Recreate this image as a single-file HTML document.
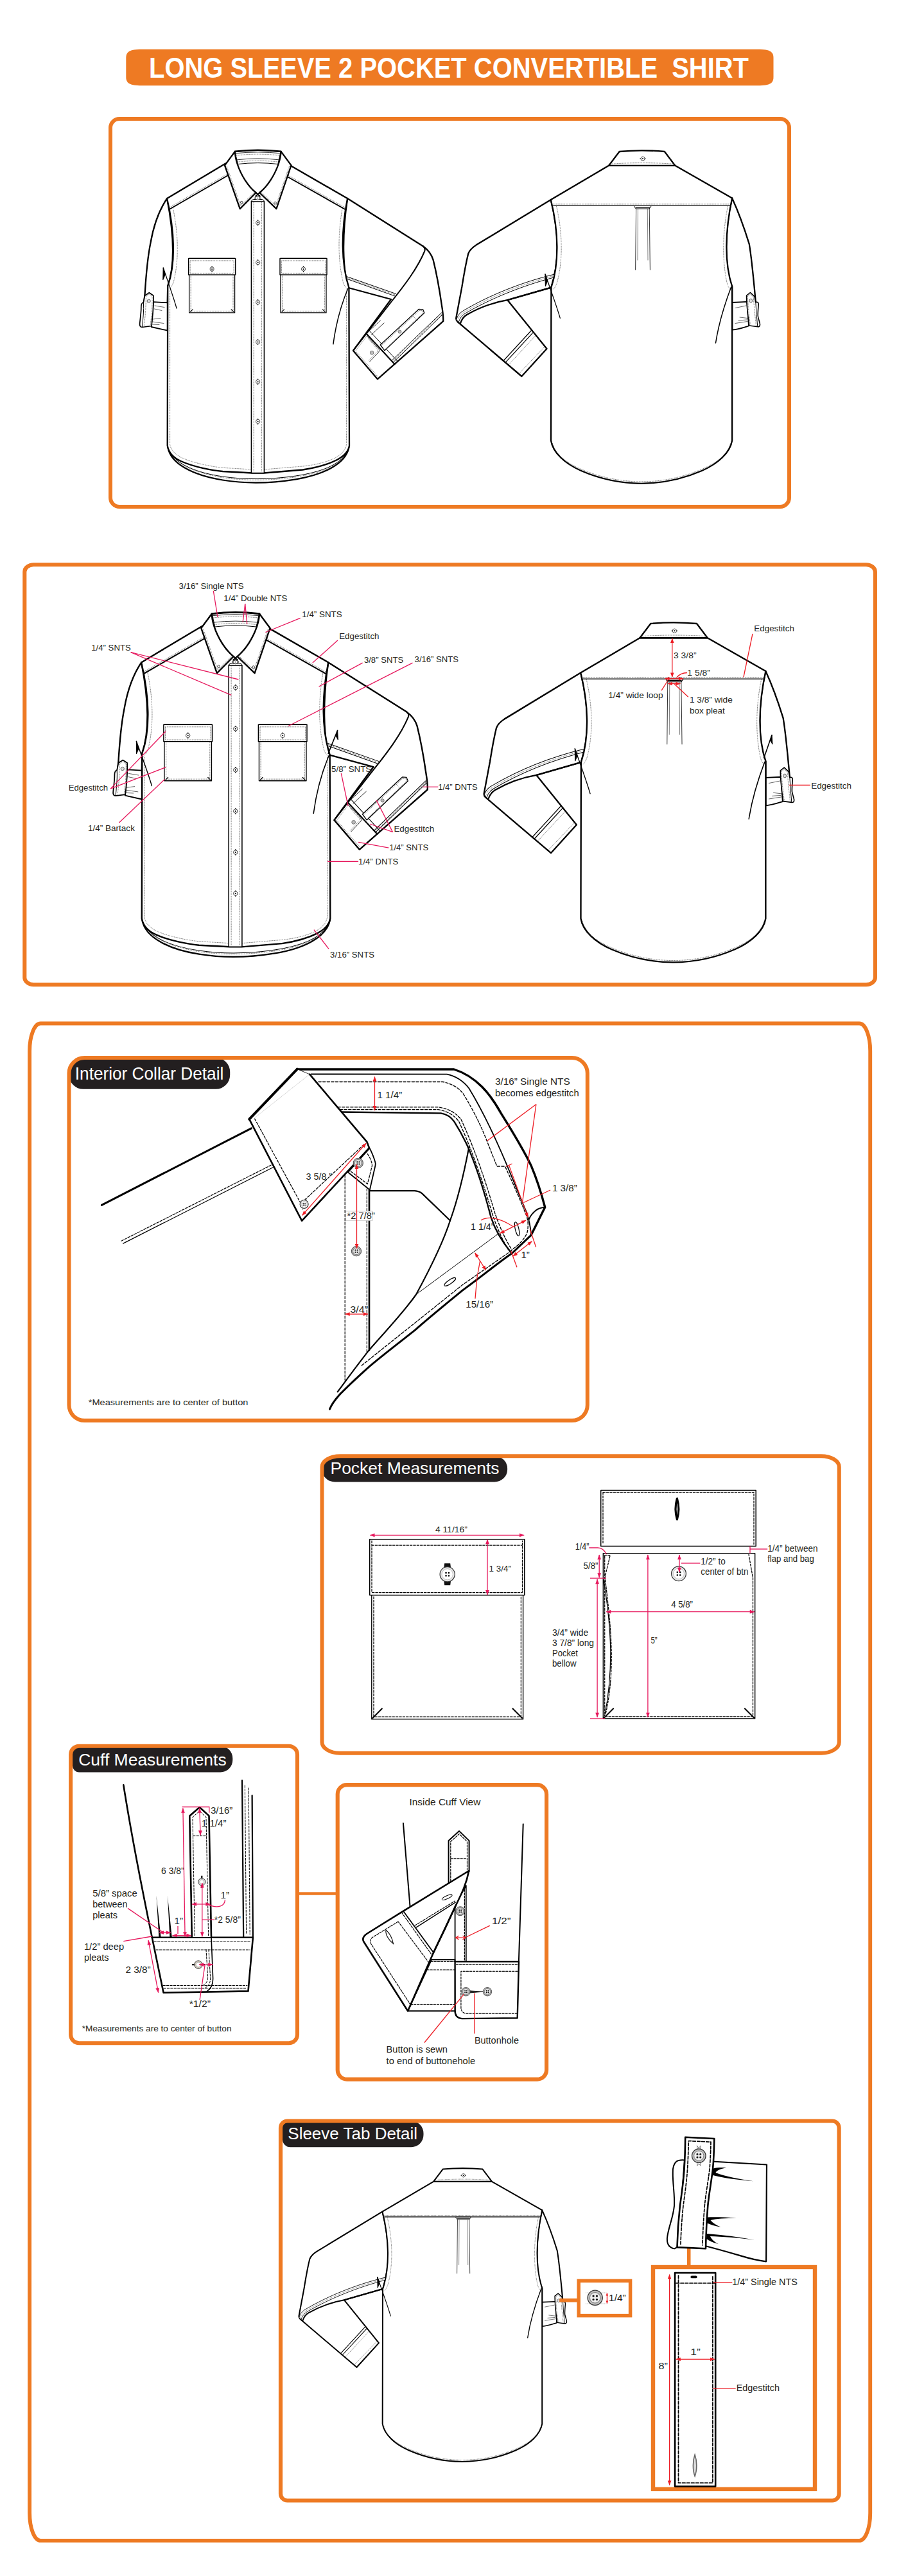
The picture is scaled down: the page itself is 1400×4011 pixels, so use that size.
<!DOCTYPE html>
<html lang="en">
<head>
<meta charset="utf-8">
<title>Long Sleeve 2 Pocket Convertible Shirt</title>
<style>
html,body{margin:0;padding:0;background:#fff;}
body{width:1400px;height:4011px;overflow:hidden;font-family:"Liberation Sans",sans-serif;}
svg{display:block;}
text{font-family:"Liberation Sans",sans-serif;fill:#231f20;}
.o{fill:none;stroke:#ee7a23;}
.k{fill:none;stroke:#000;stroke-linejoin:round;stroke-linecap:round;}
.kf{fill:#fff;stroke:#000;stroke-linejoin:round;stroke-linecap:round;}
.d{fill:none;stroke:#111;stroke-width:.55;stroke-dasharray:1.5 1;}
.r{fill:none;stroke:#e6175c;stroke-width:1.3;}
.rr{fill:none;stroke:#ed1c24;stroke-width:1.3;}
.l{font-size:13.4px;}
.l14{font-size:14.2px;}
.l15{font-size:15px;}
.pill{fill:#231f20;}
.pt{fill:#fff;font-size:26px;}
</style>
</head>
<body>
<svg width="1400" height="4011" viewBox="0 0 1400 4011">
<defs>
<marker id="ap" viewBox="0 0 10 10" refX="9.5" refY="5" markerWidth="8.6" markerHeight="7.6" orient="auto-start-reverse" markerUnits="userSpaceOnUse"><path d="M0,1.2 L10,5 L0,8.8 z" fill="#e6175c"/></marker>
<marker id="ar" viewBox="0 0 10 10" refX="9.5" refY="5" markerWidth="8.2" markerHeight="7.4" orient="auto-start-reverse" markerUnits="userSpaceOnUse"><path d="M0,1.2 L10,5 L0,8.8 z" fill="#ed1c24"/></marker>
<marker id="ars" viewBox="0 0 10 10" refX="9" refY="5" markerWidth="4.5" markerHeight="4.5" orient="auto-start-reverse" markerUnits="userSpaceOnUse"><path d="M0,1 L10,5 L0,9 z" fill="#ed1c24"/></marker>
</defs>
<rect width="1400" height="4011" fill="#fff"/>
<!-- title banner -->
<path d="M221,76.7 H1180 C1200,76.7 1204.5,81 1204.5,90 V120 C1204.5,129 1200,133.3 1180,133.3 H221 C201,133.3 196.3,129 196.3,120 V90 C196.3,81 201,76.7 221,76.7 Z" fill="#ee7a23"/>
<text x="232" y="121.2" font-size="44" font-weight="bold" style="fill:#fff" textLength="934" lengthAdjust="spacingAndGlyphs" xml:space="preserve">LONG SLEEVE 2 POCKET CONVERTIBLE  SHIRT</text>
<!-- pills -->
<rect class="pill" x="107.5" y="1647" width="250.7" height="48.8" rx="22"/>
<rect class="pill" x="501.5" y="2267.2" width="288.6" height="40.2" rx="20" ry="19"/>
<path class="pill" d="M110.1,2718.7 H343.3 A19,19 0 0 1 362.3,2737.7 V2740.5 A19,19 0 0 1 343.3,2759.5 H123 A10,10 0 0 1 113,2749.5 V2718.7 Z"/>
<path class="pill" d="M437,3302.5 H640.5 A19,19 0 0 1 659.5,3321.5 V3324.2 A19,19 0 0 1 640.5,3343.2 H452 A12,12 0 0 1 440,3331.2 V3302.5 Z"/>
<!-- panel frames -->
<rect class="o" x="172" y="185" width="1057" height="604" rx="14" stroke-width="6"/>
<rect class="o" x="38.3" y="879.3" width="1324.6" height="653.8" rx="14" ry="11" stroke-width="6.1"/>
<rect class="o" x="46.1" y="1593.5" width="1309.1" height="2362.4" rx="17" ry="43" stroke-width="5.9"/>
<rect class="o" x="107.5" y="1647" width="807.3" height="564.8" rx="24" stroke-width="6"/>
<rect class="o" x="501.5" y="2267.2" width="805.3" height="462.5" rx="28" ry="17" stroke-width="6"/>
<rect class="o" x="110.1" y="2718.7" width="352.9" height="462.5" rx="13" stroke-width="6.1"/>
<rect class="o" x="525.7" y="2779.1" width="325.4" height="458.5" rx="14.5" stroke-width="6.1"/>
<path class="o" d="M465,2948.5 H523.5" stroke-width="4.5"/>
<rect class="o" x="437" y="3302.5" width="869.6" height="591" rx="10.5" stroke-width="6.2"/>
<rect class="o" x="901.2" y="3551.4" width="80.4" height="54.2" stroke-width="5.5"/>
<rect class="o" x="1017" y="3530" width="252" height="345.8" stroke-width="6.4"/>
<path class="o" d="M1072.7,3500 V3527" stroke-width="5.6"/>
<text class="pt" x="116.8" y="1681.2" style="fill:#fff;font-size:27px" textLength="231.5" lengthAdjust="spacingAndGlyphs">Interior Collar Detail</text>
<text class="pt" x="514.5" y="2294.6" style="fill:#fff" textLength="263" lengthAdjust="spacingAndGlyphs">Pocket Measurements</text>
<text class="pt" x="122.2" y="2749.2" style="fill:#fff" textLength="230.5" lengthAdjust="spacingAndGlyphs">Cuff Measurements</text>
<text class="pt" x="448.3" y="3331.1" style="fill:#fff" textLength="201.8" lengthAdjust="spacingAndGlyphs">Sleeve Tab Detail</text>
<defs>
<g id="btnS"><circle r="3.1" fill="#fff" stroke="#000" stroke-width=".7"/><circle r="1" fill="#000"/><path d="M0,-4.6 V-3.1 M0,3.1 V4.6" stroke="#000" stroke-width="1.2" fill="none"/></g>
<g id="pocketS">
<rect class="kf" x="0" y="0" width="71" height="84.5" stroke-width="1.3"/>
<rect class="kf" x="-1" y="0" width="73" height="25.5" stroke-width="1.4"/>
<path class="d" d="M1.5,3.5 H69.5 M1.5,3.5 V23 M69.5,3.5 V23 M1.5,23 H69.5 M2.6,27 V82 H68.4 V27"/>
<path class="k" d="M2,83 L5.5,79.5 M69,83 L65.5,79.5" stroke-width="1.2"/>
<use href="#btnS" x="35.5" y="16.5"/>
</g>
<g id="front">
<!-- back hem behind -->
<path class="kf" stroke-width="2.2" d="M261.5,697 C266,722 300,740 346.8,747.5 C380,753 420,753 460.7,746.3 C505,739 538,722 543.4,697 Z"/>
<path class="k" stroke-width="1" d="M266,706 C278,724 306,736 346.8,742 C380,747 420,747 460.7,741 C500,735 528,724 539,706"/>
<path class="d" d="M268.5,710 C282,727 310,737.5 346.8,743.7 C380,748.6 420,748.6 460.7,742.7 C498,736.8 524,727 536.5,710"/>
<!-- right sleeve (viewer right), bent -->
<path class="kf" stroke-width="2.3" d="M541.1,309 L659,383.5 C668,390 672,396 674.6,404.6 C681,430 685,455 688,475.8 C690,488 690.5,494 690.2,500.2 L587.9,590.3 L550,545.9 L609,466 L542.3,448 C534,420 532,370 541.1,309 Z"/>
<path class="k" stroke-width="2" d="M659,383.5 C662,386 662,389 661.3,391 C650,418 630,444 610.1,469 L550,545.9"/>
<path class="k" stroke-width="1" d="M540.5,430.8 L616.8,457.6 M541,434.5 L614.5,460.8"/>
<path class="d" d="M540.8,432.6 L615.8,459.2"/>
<!-- cuff -->
<path class="k" stroke-width="2.1" d="M570,519 L614.6,567"/>
<path class="k" stroke-width="1" d="M574,513.6 L619,562.5"/>
<path class="d" d="M553.5,546.2 L588.5,586.5 M572.5,521.5 L554,546 M573.5,527.5 L587.6,543.6 Q589,545.6 587.5,547.4 L573.8,562"/>
<path class="k" stroke-width=".8" d="M571.5,523.5 L589.8,543.2 Q591.8,545.6 589.8,548 L575.5,563.2"/>
<path class="k" stroke-width="1" d="M612,564.5 L688.5,490.5 M610,561.5 L687.5,487"/>
<path class="d" d="M611,563 L688,488.8"/>
<!-- sleeve placket -->
<path class="kf" stroke-width="1.3" d="M592.3,537 L652.4,481.3 L658.6,481.8 L660.8,487.2 L599,545.9 Z"/>
<path class="d" d="M594.5,537.6 L652.8,483.4 L657.6,483.8 L659,487.2 L600,543.5 M643,492 L650.5,500"/>
<path class="k" stroke-width=".8" d="M573.5,516.5 L592.5,499 M578.5,521 L598,503"/>
<circle cx="622.5" cy="516.5" r="2.5" fill="#bbb" stroke="#555" stroke-width=".7"/>
<circle cx="579.1" cy="549.2" r="2.8" fill="#bbb" stroke="#555" stroke-width=".7"/>
<!-- left sleeve (viewer left), rolled -->
<path class="kf" stroke-width="2.3" d="M260.1,309 C246,330 238,358 234.5,378 C229,405 227,435 225.6,458 L224,472 L260.7,472 L261.2,445.7 C270,420 274,380 260.1,309 Z"/>
<path class="kf" stroke-width="1.8" d="M238.9,470.2 L260.7,471.3 V514.7 L235.6,509 Z"/>
<path class="k" stroke-width=".6" d="M241,476 L256,478.5 M240.5,481 L252,483.5 M238,497 L250,495.5 M237.5,501 L255,503.5 M237,505 L248,505.5"/>
<path class="kf" stroke-width="1.7" d="M225.6,460.2 L232.3,455.8 L238.9,460.2 C239.5,478 237.5,495 236,507.5 L221.5,509.5 C217.5,509.5 217.3,506 217.8,502 C219,492 220,484 219.8,478 C219.8,473 221,471.5 223.4,471 Z"/>
<path class="k" stroke-width="1" d="M223.4,471 C224.5,484 222.5,497 221.5,509"/>
<path class="d" d="M227.3,461.5 L232.3,458 L237,461.5 C237.5,478 235.8,494 234.2,506 M227.3,461.5 C227.5,478 226,494 224.3,507.5"/>
<circle cx="231.7" cy="468.8" r="2.6" fill="#ddd" stroke="#333" stroke-width=".7"/>
<!-- body -->
<path d="M351.3,254.5 L260.1,309 C272,360 274,410 261.2,445.7 L260.7,694 C263,706 272,714 282.7,718.5 C302,727 330,732.5 346.8,734 L393,736.5 H411 L471.4,731.5 C495,728 512,722.5 524.8,716 C536,710 542.5,703 544,694 L543.4,448 C531,410 531,360 541.1,309 L451.4,257.3 Z" fill="#fff"/>
<path class="k" stroke-width="2.3" d="M351.3,254.5 L260.1,309 C272,360 274,410 261.2,445.7 L260.7,694 C263,706 272,714 282.7,718.5 C302,727 330,732.5 346.8,734 L393,736.5 H411 L471.4,731.5 C495,728 512,722.5 524.8,716 C536,710 542.5,703 544,694 L543.4,448 C531,410 531,360 541.1,309 L451.4,257.3"/>
<!-- yoke seams -->
<path class="k" stroke-width="2" d="M354.3,273.5 L264.5,325.5 M448.2,275.5 L537.5,326"/>
<path class="d" d="M353.7,271.2 L263.6,323.2 M448.9,273.2 L538.2,323.7 M269,322 C278,365 279,405 270,440 Q267,447 263.5,450 M533.5,322 C526,365 526,405 534.5,440 Q537,447 541,450"/>
<path class="d" d="M264.6,451 V692 C266.5,703 276,710 287,714.5 C304,721.5 330,726.6 346.8,728.3 L392,731 M539.6,451 V692 C537.5,703 529,709.5 520,714 C505,720.5 490,724 471.4,726 L411.5,731"/>
<!-- wrinkles -->

<path class="k" stroke-width="1.5" d="M542,449 C531,475 523,505 518.9,535.8"/>
<!-- collar band back -->
<path class="kf" stroke-width="1" d="M366.5,236.5 Q401.7,232.5 437,236.5 L432.8,255.5 Q401.7,251.8 370.6,255.5 Z"/>
<path class="k" stroke-width=".8" d="M367,238.8 Q401.7,235 436.6,238.8 M369,248.8 Q401.7,245 434.4,248.8"/>
<path class="d" d="M367.8,242 Q401.7,238.2 435.8,242 M369.8,252.2 Q401.7,248.4 433.6,252.2"/>
<!-- placket -->
<path class="kf" stroke-width="1.5" d="M391.4,313.4 H411.4 V736.5 H391.4 Z"/>
<path class="d" d="M395.2,315 V735 M407.4,315 V735"/>
<!-- collar -->
<path class="kf" stroke-width="2.3" d="M365.9,235.9 L350,257.5 L373.7,325.1 L398.6,300 C386,290 375,272 369.5,255 C367,247 366,240 365.9,235.9 Z"/>
<path class="kf" stroke-width="2.3" d="M437.6,235.9 L453.5,257.5 L430.4,325.1 L404.2,300 C417,290 428,272 433.8,255 C436.3,247 437.4,240 437.6,235.9 Z"/>
<path class="k" stroke-width="2.6" d="M365.9,235.9 Q401.7,231.5 437.6,235.9"/>
<path class="k" stroke-width="2" d="M398.6,300 L404.8,305.5 M404.2,300 L398.2,305.5"/>
<path class="d" d="M353,258.5 L374.8,320.5 L396,299.5 M450.6,258.5 L429.4,320.5 L407,299.5"/>
<circle cx="376.2" cy="315.1" r="1.8" fill="#fff" stroke="#000" stroke-width=".7"/>
<circle cx="428.5" cy="316" r="1.8" fill="#fff" stroke="#000" stroke-width=".7"/>
<path class="kf" stroke-width="1" d="M391.4,313.4 Q392,311 394.5,310.5 H408.5 Q411,311 411.4,313.4 Z"/>
<ellipse cx="401.4" cy="308.4" rx="3.6" ry="2.8" fill="#fff" stroke="#000" stroke-width=".8"/><circle cx="401.4" cy="308.4" r="1" fill="#777"/>
<path d="M396,308.4 H397.8 M405,308.4 H406.8" stroke="#000" stroke-width="1.4"/>
<!-- buttons -->
<use href="#btnS" x="401.6" y="346.8"/><use href="#btnS" x="401.6" y="408.7"/><use href="#btnS" x="401.6" y="470.6"/><use href="#btnS" x="401.6" y="532.5"/><use href="#btnS" x="401.6" y="594.4"/><use href="#btnS" x="401.6" y="656.3"/>
<!-- pockets -->
<use href="#pocketS" x="294.6" y="402.4"/>
<use href="#pocketS" x="437" y="402.4"/>
</g>
</defs>
<use href="#front"/>
<path class="k" stroke-width="1.1" style="fill:#000" d="M254.2,417 L253.8,435.5 L257.2,427.5 Z"/><path class="k" stroke-width="1.3" d="M254.2,417 C262,440 270,462 275,480"/>
<use href="#front" transform="translate(-49.3,711.3) scale(1.036)"/>
<path class="k" stroke-width="1.1" style="fill:#000" d="M212.4,1154.3 L212.6,1173.4 L216,1165.5 Z"/><path class="k" stroke-width="1.4" d="M212.4,1154.3 C221,1178 230,1202 236.4,1223.6"/>
<defs>
<g id="back">
<!-- left sleeve bent (viewer left) -->
<path class="kf" stroke-width="2.3" d="M857.8,311 L741.4,381.6 C734,386.5 731,390 729.2,395 C725,412 722,430 719.4,446.4 C715,470 711.5,488 710.3,495 Q709.8,498.5 712.5,501 L812.4,586 L851.5,543 L790.3,467.2 L858.4,447.6 C870,410 872,370 857.8,311 Z"/>
<path class="kf" stroke-width="1" d="M710.8,497.8 C712,492 716,487 722,483.5 C760,461 810,440 863.8,427 L864.5,431.5 C812,445 762,466 724.5,488 C719,491.5 716,496 714.2,501.5 Z"/>
<path class="d" d="M712.6,499.3 C714,494 717.5,489.5 723.3,485.8 C761,463.5 811,442.6 864.2,429.2"/>
<path class="k" stroke-width="2.2" d="M717,503.5 C719,497 722,493 727,490 C748,478 768,471 790.3,467.2"/>
<path class="k" stroke-width="2.2" d="M790.3,467.2 L858.4,447.6"/>
<path class="k" stroke-width="1.2" d="M784.2,561.5 L827,515 M787.3,564.2 L830,517.8"/>
<path class="d" d="M792,568 L835,521.5 M808,582 L848.5,539.5"/>
<!-- right sleeve rolled (viewer right) -->
<path class="kf" stroke-width="2.3" d="M1140.1,308.4 C1150,330 1160,358 1166.8,380.1 C1171,405 1174,440 1176.8,470.2 L1140.1,472 V446 C1128,420 1128,360 1140.1,308.4 Z"/>
<path class="kf" stroke-width="1.8" d="M1140.4,471 L1163.4,469.9 L1166,507.5 C1158,510 1150,513 1140.4,513.6 Z"/>
<path class="k" stroke-width=".6" d="M1145,479.5 L1162,476 M1152,494 L1164,495.5 M1145,503.5 L1164,500.5 M1150,499 L1163,498"/>
<path class="kf" stroke-width="1.6" d="M1162.6,460.2 L1168.4,455.5 L1175.1,461.9 L1176.8,470.5 C1180,470 1181.3,471 1181.2,474 C1180.6,482 1180,488 1180.3,492 C1181,497 1183,501 1183.5,505 C1183.6,508 1182,509 1180.1,508.8 L1166.8,507 C1164.8,492 1162.5,476 1162.6,460.2 Z"/>
<path class="k" stroke-width="1" d="M1176.8,470.5 C1177.5,483 1178.5,496 1179.8,508.5"/>
<path class="d" d="M1164.5,461.2 L1168.4,458 L1173.4,462.8 C1174.3,478 1175.8,493 1177.6,507.5 M1164.5,461.2 C1164.6,477 1166.5,492 1168.6,506.3"/>
<ellipse cx="1169.3" cy="468.2" rx="2.3" ry="2.9" fill="#ddd" stroke="#333" stroke-width=".7"/>
<!-- body -->
<path class="kf" stroke-width="2.3" d="M948.1,257.8 L857.8,311 C870,360 871,410 858.4,447.6 L858,686 C861,705 880,722 905,733 C935,746 965,752.5 999,752.8 C1033,752.5 1063,746 1093,733 C1118,722 1137,705 1140.1,686 V446 C1128,410 1129,360 1140.1,308.4 L1051.3,257.8 Z"/>
<path class="k" stroke-width="1.3" d="M861.5,320.3 H1137.6"/>
<path class="d" d="M861,317.8 H1138 M866.5,321 C876,362 877,405 867.5,440 Q865,447 861.5,451 M1133.5,321 C1125,362 1124.5,405 1132,440 Q1134,447 1137.5,451"/>
<path class="d" d="M860.5,690 C864,707 882,721 906,731 C936,743.5 966,749.8 999,750 C1032,749.8 1062,743.5 1092,731 C1116,721 1134,707 1137.6,690"/>
<!-- pleat -->
<path class="k" stroke-width=".8" d="M990.6,324 L989.6,420 M1011.2,324 L1012.4,420"/>
<path class="k" stroke-width=".5" d="M993.5,325 L993,405 M1008.3,325 L1009,405"/>
<path class="kf" stroke-width="1" d="M987.6,320.5 H1014.4 L1011.3,325 H990.6 Z"/>
<path d="M990,322.8 H1012" stroke="#000" stroke-width="1.4"/>
<!-- wrinkles -->
<path class="k" stroke-width="1.1" style="fill:#000" d="M849,426.8 L849.4,445.5 L852.6,437.5 Z"/><path class="k" stroke-width="1.3" d="M849,426.8 C857,450 866,474 872.3,495.4"/>
<path class="k" stroke-width="1.5" d="M1138.6,447 C1128,475 1119,505 1114.5,534"/>
<!-- collar -->
<path class="kf" stroke-width="2.3" d="M964.6,236 Q999.7,232.6 1034.9,236 L1051.3,257.8 H948.1 Z"/>
<path class="d" d="M951,255.2 Q999.7,252 1048.5,255.2"/>
<use href="#btnS" x="1001" y="247" transform="rotate(90 1001 247)"/>
</g>
</defs>
<use href="#back"/>
<use href="#back" transform="translate(28.9,730.2) scale(1.0205)"/>
<use href="#back" transform="translate(-160.2,3169.7) scale(0.881)"/>
<!-- panel 2 annotations -->
<text class="l" x="278.5" y="916.8" textLength="101.0" lengthAdjust="spacingAndGlyphs">3/16” Single NTS</text>
<text class="l" x="348.3" y="936.2" textLength="99.0" lengthAdjust="spacingAndGlyphs">1/4” Double NTS</text>
<text class="l" x="470.3" y="961.4" textLength="62.3" lengthAdjust="spacingAndGlyphs">1/4” SNTS</text>
<text class="l" x="528.2" y="995.2" textLength="62.3" lengthAdjust="spacingAndGlyphs">Edgestitch</text>
<text class="l" x="566.9" y="1031.7" textLength="61.4" lengthAdjust="spacingAndGlyphs">3/8” SNTS</text>
<text class="l" x="645.6" y="1030.8" textLength="68.5" lengthAdjust="spacingAndGlyphs">3/16” SNTS</text>
<text class="l" x="142.3" y="1012.6" textLength="61.4" lengthAdjust="spacingAndGlyphs">1/4” SNTS</text>
<text class="l" x="106.7" y="1231.2" textLength="61.4" lengthAdjust="spacingAndGlyphs">Edgestitch</text>
<text class="l" x="137" y="1294.4" textLength="72.9" lengthAdjust="spacingAndGlyphs">1/4” Bartack</text>
<text class="l" x="516.1" y="1202" textLength="62.1" lengthAdjust="spacingAndGlyphs">5/8” SNTS</text>
<text class="l" x="682.3" y="1229.9" textLength="61.3" lengthAdjust="spacingAndGlyphs">1/4” DNTS</text>
<text class="l" x="613.4" y="1295.4" textLength="62.9" lengthAdjust="spacingAndGlyphs">Edgestitch</text>
<text class="l" x="606.2" y="1324.2" textLength="60.9" lengthAdjust="spacingAndGlyphs">1/4” SNTS</text>
<text class="l" x="558.1" y="1346" textLength="62.1" lengthAdjust="spacingAndGlyphs">1/4” DNTS</text>
<text class="l" x="514.1" y="1491.2" textLength="68.9" lengthAdjust="spacingAndGlyphs">3/16” SNTS</text>
<text class="l" x="1174.3" y="982.6" textLength="62.6" lengthAdjust="spacingAndGlyphs">Edgestitch</text>
<text class="l" x="1049" y="1025" textLength="35.6" lengthAdjust="spacingAndGlyphs">3 3/8”</text>
<text class="l" x="1070.3" y="1051.5" textLength="35.6" lengthAdjust="spacingAndGlyphs">1 5/8”</text>
<text class="l" x="947.2" y="1087" textLength="85.4" lengthAdjust="spacingAndGlyphs">1/4” wide loop</text>
<text class="l" x="1073.9" y="1094" textLength="66.9" lengthAdjust="spacingAndGlyphs">1 3/8” wide</text>
<text class="l" x="1073.9" y="1110.5" textLength="54.8" lengthAdjust="spacingAndGlyphs">box pleat</text>
<text class="l" x="1263.2" y="1227.5" textLength="62.7" lengthAdjust="spacingAndGlyphs">Edgestitch</text>
<path class="r" d="M332.3,920 L339,961"/>
<path class="r" d="M381.7,940 L378.1,969"/>
<path class="r" d="M381.7,940 L384.8,972"/>
<path class="r" d="M467.7,962.3 L413.4,984.5"/>
<path class="r" d="M525.9,997 L486.8,1032.1"/>
<path class="r" d="M564.6,1032.1 L496.6,1069"/>
<path class="r" d="M642.5,1032.1 L449,1130.5"/>
<path class="r" d="M203.7,1015.7 L371.4,1058"/>
<path class="r" d="M203.7,1015.7 L360.3,1082.4"/>
<path class="r" d="M172.1,1228.1 L258,1138.7"/>
<path class="r" d="M172.1,1228.1 L258,1194.7"/>
<path class="r" d="M185.4,1281 L256.6,1213.4"/>
<path class="r" d="M531.3,1204.1 L542.1,1255"/>
<path class="r" d="M658.3,1225.3 L682.3,1225.3"/>
<path class="r" d="M611.4,1295.4 L586.2,1246.1"/>
<path class="r" d="M611.4,1295.4 L576.2,1283"/>
<path class="r" d="M605.4,1320.2 L558.1,1311.4"/>
<path class="r" d="M510.1,1341.4 L558.1,1341.4"/>
<path class="r" d="M512.1,1477.6 L488.9,1447.6"/>
<path class="rr" d="M1172,986.9 L1157.9,1054.5"/>
<path class="rr" d="M1229,1222.5 L1261.8,1222.5"/>
<path class="rr" d="M1030.1,1075.1 L1040.1,1059.5"/>
<path class="rr" d="M1071.8,1085.2 L1050.1,1065.1"/>
<path class="rr" d="M1046.8,994 V1054.5" marker-start="url(#ar)" marker-end="url(#ar)"/>
<path class="rr" d="M1035.5,1056.8 H1064" marker-start="url(#ar)" marker-end="url(#ar)"/>
<path class="rr" d="M1040,1064.5 H1059.5" marker-start="url(#ar)" marker-end="url(#ar)"/>
<path class="rr" d="M1070.1,1047.5 C1062,1047.5 1057,1051 1053.5,1055"/>
<path class="k" stroke-width="1.6" d="M525.6,1137.4 C521,1149 516,1161 511.2,1173.4"/>
<path class="k" stroke-width="1" style="fill:#000" d="M525.6,1137.4 L526.4,1152 L523.2,1146 Z"/>
<path class="k" stroke-width="1.6" d="M1202,1144.5 C1198,1156 1194,1168 1189.6,1180"/>
<path class="k" stroke-width="1" style="fill:#000" d="M1202,1144.5 L1203,1159 L1199.8,1153 Z"/>
<!-- Interior collar detail -->
<defs>
<g id="btn4"><circle r="7.6" fill="#b5b5b5" stroke="#444" stroke-width="1"/><circle r="5.4" fill="#e6e6e6" stroke="#666" stroke-width=".8"/><path d="M-1.6,-1.6h.1M1.6,-1.6h.1M-1.6,1.6h.1M1.6,1.6h.1" stroke="#000" stroke-width="2" stroke-linecap="round"/></g>
</defs>
<g>
<!-- shoulder -->
<path class="k" stroke-width="3" d="M158.4,1876.4 L391.4,1756.8"/>
<path class="k" stroke-width="1.3" d="M191.8,1936.2 L426.5,1817"/>
<path class="k" stroke-width="1.2" stroke-dasharray="3.6 2" d="M189,1932.2 L424.5,1813"/>
<!-- collar stand / band lines -->
<path class="k" stroke-width="3.4" d="M462.5,1665 L707,1665 C742,1676 764,1704 780.2,1733.4 C800,1765 815,1790 826.9,1814.4 C836,1836 843,1858 848.7,1879.8 L826.9,1923.4"/>
<path class="k" stroke-width="2" d="M848.7,1879.8 C842,1880.5 838,1882 834.7,1884.5 C829.5,1888.5 826,1893 823.8,1898.5"/>
<path class="k" stroke-width="1.8" d="M484.5,1672.5 L696,1672.7 C712,1676 722,1684 730.3,1694.5 C755,1735 775,1780 789.5,1814.4 C800,1840 812,1868 820.6,1889.2 C824,1900 826,1910 826.9,1920.3"/>
<path class="k" stroke-width="1.35" stroke-dasharray="4.2 2.4" d="M496,1684.5 L689.8,1684.5 C705,1688 714,1694 721,1702.3 C738,1730 750,1755 758.4,1777 L773.9,1816 H786.4 C800,1845 812,1872 820.6,1895.4 C822.5,1902 823,1910 821,1919 C817,1930 806,1940 797,1946"/>
<path class="k" stroke-width="1.35" stroke-dasharray="4.2 2.4" d="M526,1723.8 L683,1723.8 C700,1727 710,1733 717.9,1742.8 C740,1790 758,1845 770.8,1889.2 C778,1910 786,1928 795.7,1943.7"/>
<path class="k" stroke-width="1.35" stroke-dasharray="4.2 2.4" d="M529.5,1727.6 L682,1727.6 C698,1730.5 707,1736.5 714.5,1746 C736,1792 754,1847 767,1891 C774,1912 782,1930 792,1946.5"/>
<path class="k" stroke-width="2.4" d="M531.8,1731.5 L686.7,1733.4 C696,1735 702,1739 707,1745.9 C716,1760 724,1775 730.3,1789.5 C745,1825 756,1862 764.6,1895.4 C772,1918 784,1936 795.7,1949.9"/>
<!-- front edge curve -->
<path class="k" stroke-width="2.2" d="M730.3,1786.4 C722,1830 712,1870 701,1900.5 C690,1935 670,1975 648.1,2015.5 C625,2048 598,2075 574.6,2102.4 C556,2126 540,2148 525.7,2167.2"/>
<path class="k" stroke-width="2.2" d="M575.8,1854.2 H645.5 Q653,1854.6 657.6,1858.6 L701,1900.5"/>
<path class="k" stroke-width="1" d="M776.5,1920.6 L648.1,2015.5"/>
<!-- placket edge thick -->
<path class="k" stroke-width="3" d="M826.9,1923.4 L797.3,1951.5 C780,1963 765,1976 720,2009.4 C695,2030 670,2050 646.8,2070.6 C620,2092 596,2110 573.4,2129.3 C556,2145 542,2158 529.4,2170.9 C522,2179 516.5,2186 513.5,2194.1"/>
<path class="k" stroke-width="1.35" stroke-dasharray="4.2 2.4" d="M797,1947 L720,2000.8 L562.4,2126.8"/>
<ellipse cx="700.7" cy="1995.9" rx="10.5" ry="3" fill="#fff" stroke="#000" stroke-width="1.2" transform="rotate(-34 700.7 1995.9)"/>
<ellipse cx="805.1" cy="1913.5" rx="2.8" ry="11" fill="#fff" stroke="#000" stroke-width="1.2" transform="rotate(-13 805.1 1913.5)"/>
<!-- placket -->
<path class="k" stroke-width="2.6" d="M575,1853 V2102.4"/>
<path class="k" stroke-width="1.25" stroke-dasharray="3.8 2.3" d="M537.2,1829.5 V2149 M571.4,1851 V2107"/>
<!-- band end tab -->
<path class="kf" stroke-width="1.8" d="M541.9,1825.3 L573.8,1790 L575.4,1787.5 C579,1794 582,1802 583.9,1808 C585,1811 585,1813 584.4,1815.2 L575.8,1852.8 Z"/>
<path class="k" stroke-width="1.25" stroke-dasharray="3.8 2.2" d="M546.3,1824 L572.3,1843.5 L579.5,1815.2 C579.6,1809 575,1800 570.9,1795"/>
<!-- collar flap -->
<path d="M462.9,1664.7 L388.2,1742.6 L470.1,1900.9 L575,1787.5 L571.5,1778.1 L482.1,1672.7 Z" fill="#fff"/>
<path class="k" stroke-width="2.6" d="M388.2,1742.6 L470.1,1900.9 L575,1787.5 L571.5,1778.1 L482.1,1672.7"/>
<path class="k" stroke-width=".8" d="M462.9,1664.7 L482.1,1672.7"/>
<path class="k" stroke-width="4" d="M462.9,1664.7 L388.2,1742.6"/>
<path class="k" stroke-width=".5" stroke-dasharray="1 1.4" style="stroke:#999" d="M396.7,1740.5 L480.5,1674"/>
<path class="k" stroke-width="1.25" stroke-dasharray="3.8 2.3" d="M396.7,1742.1 L468.5,1874 L567.5,1781.3"/>
<g transform="translate(473.6,1875)"><path d="M1.5,-9 l1.5,2.5 M3.5,-8.5 l-.5,2.5 M-3,9 l1,-2.5" stroke="#555" stroke-width=".8" fill="none"/><circle r="6.5" fill="#fff" stroke="#222" stroke-width="1.1"/><circle r="4.6" fill="#fff" stroke="#999" stroke-width=".6"/><path d="M-1.4,-1.4h.1M1.4,-1.4h.1M-1.4,1.4h.1M1.4,1.4h.1" stroke="#000" stroke-width="1.8" stroke-linecap="round"/></g>
<use href="#btn4" x="557.8" y="1810.9"/>
<use href="#btn4" x="555" y="1948.2"/>
</g>
<!-- collar annotations -->
<rect x="538.5" y="1886" width="42" height="14.5" fill="#fff" stroke="#bbb" stroke-width=".6"/>
<text class="l14" x="476.5" y="1837.4" textLength="40.6" lengthAdjust="spacingAndGlyphs">3 5/8 ”</text>
<text class="l14" x="540.5" y="1897.6" textLength="43.4" lengthAdjust="spacingAndGlyphs">*2 7/8”</text>
<text class="l14" x="587.4" y="1709.5" textLength="38.9" lengthAdjust="spacingAndGlyphs">1 1/4”</text>
<text class="l14" x="770.9" y="1689" textLength="116.8" lengthAdjust="spacingAndGlyphs">3/16” Single NTS</text>
<text class="l14" x="770.9" y="1706.7" textLength="130.7" lengthAdjust="spacingAndGlyphs">becomes edgestitch</text>
<text class="l14" x="859.9" y="1855.2" textLength="38.9" lengthAdjust="spacingAndGlyphs">1 3/8”</text>
<text class="l14" x="733.1" y="1915.3" textLength="36.4" lengthAdjust="spacingAndGlyphs">1 1/4”</text>
<text class="l14" x="811.5" y="1958.5" textLength="13.4" lengthAdjust="spacingAndGlyphs">1”</text>
<text class="l14" x="725.3" y="2036.3" textLength="42.8" lengthAdjust="spacingAndGlyphs">15/16”</text>
<text class="l14" x="545.3" y="2043.6" textLength="27.9" lengthAdjust="spacingAndGlyphs">3/4”</text>
<text class="l" x="137.8" y="2188.1" textLength="248.6" lengthAdjust="spacingAndGlyphs">*Measurements are to center of button</text>
<path class="rr" d="M470.6,1892.4 L570.2,1780" marker-start="url(#ar)" marker-end="url(#ar)"/>
<path class="rr" d="M555.5,1813 L555.5,1944" marker-start="url(#ar)" marker-end="url(#ar)"/>
<path class="rr" d="M583.5,1676.5 L583.5,1729" marker-start="url(#ar)" marker-end="url(#ar)"/>
<path class="rr" d="M537.6,2046.1 L573,2046.1" marker-start="url(#ar)" marker-end="url(#ar)"/>
<path class="rr" d="M834.9,1719.5 L758.7,1776.3"/>
<path class="rr" d="M834.9,1719.5 L813.7,1870.8"/>
<path class="rr" d="M857.1,1853 L815.4,1872.5"/>
<path class="rr" d="M792.6,1814.4 L822.2,1895.4" marker-end="url(#ar)"/>
<path class="rr" d="M788,1816.5 L797.5,1812"/>
<path class="rr" d="M778.6,1920.3 L819.1,1900.1" marker-start="url(#ar)" marker-end="url(#ar)"/>
<path class="rr" d="M749,1900 C760,1893 778,1896 798.5,1909.5"/>
<path class="rr" d="M798.8,1956.1 L828.4,1932.8" marker-start="url(#ar)" marker-end="url(#ar)"/>
<path class="rr" d="M825.3,1914 L834.7,1942"/>
<path class="rr" d="M795.7,1948 L805,1973.3"/>
<path class="rr" d="M739.7,1950.8 L756.8,1978" marker-start="url(#ar)" marker-end="url(#ar)"/>
<path class="rr" d="M747.5,1963.5 L742.8,1990 L740,2022"/>
<!-- pocket measurements -->
<rect class="kf" x="578.8" y="2483" width="235.8" height="193.9" stroke-width="1.4"/>
<rect class="kf" x="575.7" y="2396.8" width="241.1" height="87" stroke-width="1.5"/>
<path class="k" stroke-width="1.25" stroke-dasharray="3.4 2" d="M579,2406 H813.5 M579,2399 V2479.5 H813.5 V2399 M582,2486 V2673 H811.4 V2486"/>
<path class="k" stroke-width="2" d="M580.5,2675 L594.8,2660.5 M813,2675 L798.5,2660.5"/>
<g transform="translate(696.7,2451.3)"><path d="M-4.5,-17 h9 l1,8 h-11 z M-5.5,9 h11 l-1,8 h-9 z" fill="#111"/><circle r="11.6" fill="#e8e8e8" stroke="#333" stroke-width="1.2"/><circle r="8.6" fill="#fff" stroke="#aaa" stroke-width=".7"/><path d="M-2.2,-2.2h.1M2.2,-2.2h.1M-2.2,2.2h.1M2.2,2.2h.1" stroke="#000" stroke-width="2.6" stroke-linecap="round"/></g>
<path class="r" d="M576.3,2390.4 L816.2,2390.4" marker-start="url(#ap)" marker-end="url(#ap)"/>
<path class="r" d="M759,2397 L759,2483.2" marker-start="url(#ap)" marker-end="url(#ap)"/>
<text class="l" x="678" y="2385.9" textLength="49.8" lengthAdjust="spacingAndGlyphs">4 11/16”</text>
<text class="l" x="761.6" y="2446.9" textLength="34.3" lengthAdjust="spacingAndGlyphs">1 3/4”</text>
<rect class="kf" x="935.7" y="2320.4" width="241.5" height="87" stroke-width="1.5"/>
<path class="k" stroke-width="1.25" stroke-dasharray="3.4 2" d="M939,2323.6 H1174 V2404.5 M939,2323.6 V2404.5"/>
<path d="M1054.4,2333.2 C1051.5,2343 1051.5,2356 1054.4,2365.9 C1057.3,2356 1057.3,2343 1054.4,2333.2 Z" fill="#fff" stroke="#000" stroke-width="3.2" stroke-linejoin="round"/>
<path class="kf" stroke-width="1.4" d="M939.3,2418.6 H1175.7 V2676 H939.3 Z"/>
<path class="k" stroke-width="1.25" stroke-dasharray="3.4 2" d="M942.5,2672.8 H1172.5 V2457 L1166,2420.5"/>
<path class="k" stroke-width="1.25" stroke-dasharray="3.4 2" d="M941,2421.5 H950.2 C948,2432 944,2446 942.2,2456 C946,2490 951.5,2530 952.3,2577 C952.5,2610 949,2645 943,2669 M941.7,2423 V2668"/>
<path class="k" stroke-width="1.2" d="M940,2459.4 C945,2490 950,2530 950.8,2570 C951,2605 948,2640 941.5,2672"/>
<path class="k" stroke-width="2" d="M941,2674.5 L955,2660.5 M1174,2674.5 L1160,2660.5"/>
<g transform="translate(1057,2450.3)"><circle r="11.4" fill="#e8e8e8" stroke="#333" stroke-width="1.2"/><circle r="8.4" fill="#fff" stroke="#aaa" stroke-width=".7"/><path d="M-2.2,-2.2h.1M2.2,-2.2h.1M-2.2,2.2h.1M2.2,2.2h.1" stroke="#000" stroke-width="2.6" stroke-linecap="round"/></g>
<text class="l14" x="895.8" y="2412.5" textLength="21.5" lengthAdjust="spacingAndGlyphs">1/4”</text>
<text class="l14" x="908.6" y="2442.7" textLength="22.9" lengthAdjust="spacingAndGlyphs">5/8”</text>
<text class="l14" x="860" y="2546.5" textLength="56.3" lengthAdjust="spacingAndGlyphs">3/4” wide</text>
<text class="l14" x="860" y="2562.9" textLength="65" lengthAdjust="spacingAndGlyphs">3 7/8” long</text>
<text class="l14" x="860" y="2578.8" textLength="40" lengthAdjust="spacingAndGlyphs">Pocket</text>
<text class="l14" x="860" y="2595.2" textLength="37.5" lengthAdjust="spacingAndGlyphs">bellow</text>
<text class="l14" x="1013.5" y="2559.3" textLength="10.2" lengthAdjust="spacingAndGlyphs">5”</text>
<text class="l14" x="1045.2" y="2503" textLength="33.8" lengthAdjust="spacingAndGlyphs">4 5/8”</text>
<text class="l14" x="1091.3" y="2435.5" textLength="38.4" lengthAdjust="spacingAndGlyphs">1/2” to</text>
<text class="l14" x="1091.3" y="2451.9" textLength="74.2" lengthAdjust="spacingAndGlyphs">center of btn</text>
<text class="l14" x="1195.2" y="2416.1" textLength="78.3" lengthAdjust="spacingAndGlyphs">1/4” between</text>
<text class="l14" x="1195.2" y="2432.4" textLength="72.6" lengthAdjust="spacingAndGlyphs">flap and bag</text>
<path class="r" d="M917.3,2410 H931 C938,2410 941.5,2414 944.4,2420.2"/>
<path class="r" d="M933.2,2421 L933.2,2456.5" marker-start="url(#ap)" marker-end="url(#ap)"/>
<path class="r" d="M930.1,2459 L930.1,2674" marker-start="url(#ap)" marker-end="url(#ap)"/>
<path class="r" d="M919,2457.3 L944,2457.3"/>
<path class="r" d="M919,2676 L942,2676"/>
<path class="r" d="M1008.9,2421 L1008.9,2674" marker-start="url(#ap)" marker-end="url(#ap)"/>
<path class="r" d="M944,2509.7 L1175,2509.7" marker-start="url(#ap)" marker-end="url(#ap)"/>
<path class="r" d="M1058,2421 L1058,2448" marker-start="url(#ap)" marker-end="url(#ap)"/>
<path class="r" d="M1060.6,2434 L1090.3,2434"/>
<path class="r" d="M1168,2407.4 L1168,2418.6"/>
<path class="r" d="M1168,2412 L1195.2,2412"/>
<!-- cuff measurements -->
<path class="k" stroke-width="2.6" d="M192.3,2779.2 C205,2860 222,2945 236.8,3016.8"/>
<path class="k" stroke-width="2.2" d="M377,2772.1 L379.2,3016.8 M392.6,2795.7 L393.9,3016.8"/>
<path class="k" stroke-width="1" stroke-dasharray="3.4 2" d="M381.4,2780 L383.6,3012 M387.2,2784 L389.2,3012"/>
<path d="M243.5,2951.5 L247.4,3017 L250.6,3017 Z M260.9,2951.5 L264.4,3017 L267.8,3017 Z" fill="#000"/>
<path class="kf" stroke-width="2.6" d="M236.8,3016.8 H393.9 L386.5,3100.4 L254.6,3102.7 Z"/>
<path class="k" stroke-width="1" stroke-dasharray="3.4 2" d="M240,3022.6 H390.5 M243,3036 H389.5 M254,3091.5 H385 M255,3096 H384.5"/>
<path class="kf" stroke-width="2.6" d="M298.8,3016 L295.3,2827.4 L310.8,2814 L325.5,2827.4 L329,3016"/>
<path class="k" stroke-width="1" stroke-dasharray="3.4 2" d="M303.3,3014 L300,2829.5 L310.8,2820 L321,2829.5 L324.6,3014 M300.6,2858.6 H321.6"/>
<path class="k" stroke-width="1.6" d="M329,3016 L331.6,3079.7 C332,3090 329.5,3096 322.5,3100.4"/>
<path class="k" stroke-width="1" stroke-dasharray="3.4 2" d="M325,3036 L327.6,3079 C328,3087 325.5,3092 318.5,3096 M321,3036 L323.6,3078 C324,3084 321.5,3088.5 315.5,3091.5"/>
<g id="btnC"><path d="M314.3,2920.7 v19" stroke="#000" stroke-width="2.2"/><circle cx="314.3" cy="2930.2" r="5.6" fill="#ddd" stroke="#333" stroke-width="1"/><circle cx="314.3" cy="2930.2" r="3.5" fill="#fff" stroke="#888" stroke-width=".7"/></g>
<path d="M299,3059.1 h20" stroke="#000" stroke-width="2.2"/><circle cx="308.9" cy="3059.1" r="6.2" fill="#d9cfc0" stroke="#333" stroke-width="1"/><circle cx="308.9" cy="3059.1" r="4" fill="#fff" stroke="#888" stroke-width=".7"/>
<text class="l15" x="328" y="2823.7" textLength="34.3" lengthAdjust="spacingAndGlyphs">3/16”</text>
<text class="l15" x="313.8" y="2843.7" textLength="38.7" lengthAdjust="spacingAndGlyphs">1 1/4”</text>
<text class="l15" x="251.1" y="2918" textLength="35.6" lengthAdjust="spacingAndGlyphs">6 3/8”</text>
<text class="l15" x="343.6" y="2955.8" textLength="13.4" lengthAdjust="spacingAndGlyphs">1”</text>
<text class="l15" x="333.8" y="2993.7" textLength="41.0" lengthAdjust="spacingAndGlyphs">*2 5/8”</text>
<text class="l15" x="271.5" y="2995.9" textLength="13.4" lengthAdjust="spacingAndGlyphs">1”</text>
<text class="l15" x="144.3" y="2952.7" textLength="69.4" lengthAdjust="spacingAndGlyphs">5/8” space</text>
<text class="l15" x="144.3" y="2969.6" textLength="54.2" lengthAdjust="spacingAndGlyphs">between</text>
<text class="l15" x="144.3" y="2987" textLength="38.7" lengthAdjust="spacingAndGlyphs">pleats</text>
<text class="l15" x="130.9" y="3035.9" textLength="62.3" lengthAdjust="spacingAndGlyphs">1/2” deep</text>
<text class="l15" x="130.9" y="3052.8" textLength="38.7" lengthAdjust="spacingAndGlyphs">pleats</text>
<text class="l15" x="195.4" y="3071.5" textLength="39.2" lengthAdjust="spacingAndGlyphs">2 3/8”</text>
<text class="l15" x="294.7" y="3124.9" textLength="33.3" lengthAdjust="spacingAndGlyphs">*1/2”</text>
<text class="l" x="127.8" y="3162.7" textLength="232.7" lengthAdjust="spacingAndGlyphs">*Measurements are to center of button</text>
<path class="r" d="M283.5,2813.5 L325.8,2813.5 L325.8,2822.5"/>
<path class="r" d="M310.8,2815.5 L312.1,2857.5" marker-start="url(#ap)" marker-end="url(#ap)"/>
<path class="r" d="M284.9,2815.5 L288.1,3015.5" marker-start="url(#ap)" marker-end="url(#ap)"/>
<path class="r" d="M298.8,2964.9 L327.6,2964.9" marker-start="url(#ap)" marker-end="url(#ap)"/>
<path class="r" d="M350.5,2958 C350,2968 340,2973 321.4,2964.7"/>
<path class="r" d="M314.8,2932 L314.8,3015.5" marker-start="url(#ap)" marker-end="url(#ap)"/>
<path class="r" d="M314.8,2989.2 L333.8,2989.2"/>
<path class="r" d="M268.5,3013.7 L297.6,3013.7" marker-start="url(#ap)" marker-end="url(#ap)"/>
<path class="r" d="M277,2999 L277,3011.5"/>
<path class="r" d="M199,2971.4 L254.6,3009.2"/>
<path class="r" d="M248,3009.2 L265.8,3009.2" marker-start="url(#ap)" marker-end="url(#ap)"/>
<path class="r" d="M192.3,3022.6 L236.8,3015"/>
<path class="r" d="M231,3021.2 L246.6,3102.7" marker-start="url(#ap)" marker-end="url(#ap)"/>
<path class="r" d="M311.1,3113.8 L319.1,3059.5"/>
<path class="r" d="M310,3059.1 L331.5,3059.1" marker-start="url(#ap)" marker-end="url(#ap)"/>
<!-- inside cuff view -->
<text class="l15" x="637.5" y="2810.5" textLength="110.8" lengthAdjust="spacingAndGlyphs">Inside Cuff View</text>
<path class="k" stroke-width="2" d="M627.9,2838.7 L638.5,2968 M814.7,2840.2 L807.9,3053.6"/>
<path class="kf" stroke-width="2" d="M698.6,2931 V2866.1 L715.1,2851.1 L730.6,2866.1 V2914"/>
<path class="k" stroke-width="1.2" stroke-dasharray="3.2 1.9" d="M701.8,2929 V2867.5 L715.1,2855.5 L727.5,2867.5 V2914 M701.8,2893.8 H727.5"/>
<path class="kf" stroke-width="1.8" d="M708.6,2966 V3054.2 H725.8 V2936 Z"/>
<path class="k" stroke-width="1.2" stroke-dasharray="3.2 1.9" d="M723.4,2942 V3052"/>
<path class="kf" stroke-width="2.4" d="M708.4,3054.3 H808 L805.7,3142.2 L719.3,3143.1 Q708.6,3142 708.6,3131 Z"/>
<path class="k" stroke-width="1.2" stroke-dasharray="3.2 1.9" d="M710.5,3058.5 H806.5 M806,3069.3 H717.9 V3126 Q718.5,3135 727,3135.1 H805.5"/>
<path class="kf" stroke-width="2" d="M672.1,3051.2 H708.4 V3131.3 H635.1 Z"/>
<path class="k" stroke-width="1.2" stroke-dasharray="3.2 1.9" d="M671,3054.4 H708 M665,3067.2 H708 M639.5,3121.3 H708"/>
<path class="kf" stroke-width="2.6" d="M730.2,2913 L628.1,2975.7 L572,3010.5 Q562.5,3016.5 566.5,3023.5 L635.1,3131.3 L675.1,3040.2 C690,3010 702,2984 709.2,2968.1 C718,2950 726,2935 730.2,2913 Z"/>
<path class="k" stroke-width="2.4" d="M710,2966.5 L675.1,3040.2"/>
<path class="k" stroke-width="1.8" d="M628.1,2975.7 L675.1,3040.2"/>
<path class="k" stroke-width="1.2" stroke-dasharray="3.2 1.9" d="M625.5,2978 L671.5,3042.5 M620.1,2992.1 L668.1,3056.2 M620.1,2992.1 L581,3016 Q574.5,3020.5 578,3027 L639.1,3121.3"/>
<path class="k" stroke-width="1.4" d="M648.1,3001.1 L709.2,2962.1"/>
<path class="k" stroke-width="1.2" stroke-dasharray="3.2 1.9" d="M646.1,2998.1 L708.2,2960.1"/>
<ellipse cx="696.2" cy="2954.1" rx="8.6" ry="2.3" fill="#fff" stroke="#000" stroke-width="1" transform="rotate(-24 696.2 2954.1)"/>
<path d="M601,3005.1 C600,3012 605,3021 612.5,3026.6 C611,3019 607,3010 601,3005.1 Z" fill="#fff" stroke="#000" stroke-width="1.1"/>
<use href="#btn4" transform="translate(716.6,2975.7) scale(.92)"/>
<path d="M731,3099.8 L752,3101.2 L731,3103 Z" fill="#333" stroke="#000" stroke-width=".8"/>
<use href="#btn4" transform="translate(725.5,3101.2) scale(.88)"/>
<use href="#btn4" transform="translate(759,3101.2) scale(.88)"/>
<text class="l15" x="766" y="2995.9" textLength="29.4" lengthAdjust="spacingAndGlyphs">1/2”</text>
<text class="l15" x="738.9" y="3182.3" textLength="69.1" lengthAdjust="spacingAndGlyphs">Buttonhole</text>
<text class="l15" x="601.6" y="3195.5" textLength="95.3" lengthAdjust="spacingAndGlyphs">Button is sewn</text>
<text class="l15" x="601.6" y="3214" textLength="138.7" lengthAdjust="spacingAndGlyphs">to end of buttonehole</text>
<path class="rr" d="M762.7,2998.3 L726.3,3016"/>
<path class="rr" stroke-width="1.1" d="M709.6,3017.1 H725.4 M714.5,3014.3 L709.6,3017.1 L714.5,3019.9 M720.5,3014.3 L725.4,3017.1 L720.5,3019.9"/>
<path class="rr" d="M738.9,3103.4 L738.9,3166.4"/>
<path class="rr" d="M660.9,3180.5 L722.6,3104.8"/>
<!-- sleeve tab detail -->
<path class="o" d="M871.3,3581.7 H899" stroke-width="5.8"/>
<path class="kf" stroke-width="2.2" d="M1100,3365 L1194,3370.5 L1193.1,3521.3 C1178,3519.5 1165,3516 1153.5,3512.4 C1135,3507 1118,3502 1092,3495.5 Z"/>
<path d="M1110.1,3376.7 C1118,3374.5 1124,3375 1131.2,3375.2 C1122,3377 1116,3379.5 1114.5,3383 C1130,3389 1152,3393 1173.5,3396.3 C1150,3394.5 1125,3391 1109,3386.8 Z" fill="#000"/>
<path d="M1101.2,3452.4 C1116,3452 1131,3452.5 1146.8,3453.5 C1130,3454 1114,3454.5 1106.5,3457 C1110,3461.5 1116,3465 1122.3,3467.5 C1113,3466 1105,3463.5 1100.3,3461 Z" fill="#000"/>
<path d="M1101.2,3478 C1126,3480 1150,3483 1174.6,3487.5 C1150,3484.5 1125,3482.5 1106,3482 C1108,3487 1113,3491 1119,3494.2 C1111,3492 1104,3489 1100,3486 Z" fill="#000"/>
<path class="kf" stroke-width="2" d="M1066,3363.4 C1060,3363 1056,3363.5 1053.4,3365.6 C1048.5,3370 1047.5,3377 1047.8,3383.4 C1047.5,3400 1051,3418 1050,3434.6 C1048,3455 1040,3470 1038.9,3485.8 C1038.5,3493 1041,3497 1044.5,3499.1 C1047,3500.8 1049,3501.5 1050.5,3501.3 L1056,3498 Z"/>
<path class="kf" stroke-width="2.6" d="M1067.2,3327.8 L1112.3,3330 C1112,3346 1111.5,3362 1110.1,3376.7 C1108,3396 1104,3416 1102.3,3434.6 C1100.5,3456 1099.5,3480 1099,3501.3 L1054.5,3499.1 C1055,3478 1056.5,3456 1058.9,3434.6 C1061.5,3416 1064.5,3396 1065.6,3376.7 C1066.5,3362 1067,3346 1067.2,3327.8 Z"/>
<path class="k" stroke-width="1.7" stroke-dasharray="4.6 2.4" d="M1060,3494.5 C1060.5,3474 1062,3454 1064,3434.6 C1066.5,3416 1069.5,3396 1070.6,3376.7 C1071.5,3362 1072,3348 1072.3,3333.5 L1107,3335.2 C1106.8,3348 1106.3,3362 1105.1,3376.7 C1103,3396 1099,3416 1097.3,3434.6 C1095.5,3456 1094.5,3476 1094,3496"/>
<g transform="translate(1088.3,3356.7)"><path d="M-3,-16 l3,4 l3,-4 M-3,16 l3,-4 l3,4 M-2.5,-15 v30 M2.5,-15 v30" stroke="#777" stroke-width="1" fill="none"/><circle r="10.8" fill="#bdbdbd" stroke="#333" stroke-width="1.2"/><circle r="7.6" fill="#efefef" stroke="#666" stroke-width=".8"/><path d="M-2.4,-2.4h.1M2.4,-2.4h.1M-2.4,2.4h.1M2.4,2.4h.1" stroke="#111" stroke-width="3" stroke-linecap="round"/></g>
<path d="M912,3570 H945 M912,3587 H945" stroke="#999" stroke-width=".7" stroke-dasharray="1.2 1.2" fill="none"/>
<g transform="translate(926.7,3577.8)"><circle r="11.6" fill="#bdbdbd" stroke="#333" stroke-width="1.3"/><circle r="8.2" fill="#efefef" stroke="#666" stroke-width=".9"/><path d="M-2.7,-2.7h.1M2.7,-2.7h.1M-2.7,2.7h.1M2.7,2.7h.1" stroke="#111" stroke-width="3.2" stroke-linecap="round"/></g>
<path class="rr" d="M945.4,3570.5 L945.4,3586.5" marker-start="url(#ars)" marker-end="url(#ars)"/>
<text class="l15" x="948.1" y="3582.7" textLength="26.7" lengthAdjust="spacingAndGlyphs">1/4”</text>
<rect class="kf" x="1051.1" y="3539" width="63.1" height="332.6" stroke-width="2.6"/>
<path class="k" stroke-width="1.7" stroke-dasharray="4.6 2.4" d="M1056.5,3543 V3866 H1109.9 V3543 M1053,3555 H1113"/>
<rect x="1075.5" y="3543.5" width="10" height="3.8" rx="1.6" fill="#000"/>
<path d="M1082.1,3821.9 C1078.5,3832 1078.5,3846 1082.1,3855.6 C1085.7,3846 1085.7,3832 1082.1,3821.9 Z" fill="#ddd" stroke="#666" stroke-width="1.6"/>
<path class="rr" d="M1042.6,3541.5 L1042.6,3869.5" marker-start="url(#ar)" marker-end="url(#ar)"/>
<path class="rr" d="M1052.8,3673.5 L1113,3673.5" marker-start="url(#ar)" marker-end="url(#ar)"/>
<path class="rr" d="M1110.9,3553.9 L1140.3,3553.9"/>
<path class="rr" d="M1109.9,3718.9 L1145.7,3718.9"/>
<text class="l15" x="1025.5" y="3688.5" textLength="14.4" lengthAdjust="spacingAndGlyphs">8”</text>
<text class="l15" x="1075.2" y="3667.1" textLength="15.5" lengthAdjust="spacingAndGlyphs">1”</text>
<text class="l15" x="1140.3" y="3557.6" textLength="101.5" lengthAdjust="spacingAndGlyphs">1/4” Single NTS</text>
<text class="l15" x="1146.7" y="3723.2" textLength="67.3" lengthAdjust="spacingAndGlyphs">Edgestitch</text>
</svg>
</body>
</html>
